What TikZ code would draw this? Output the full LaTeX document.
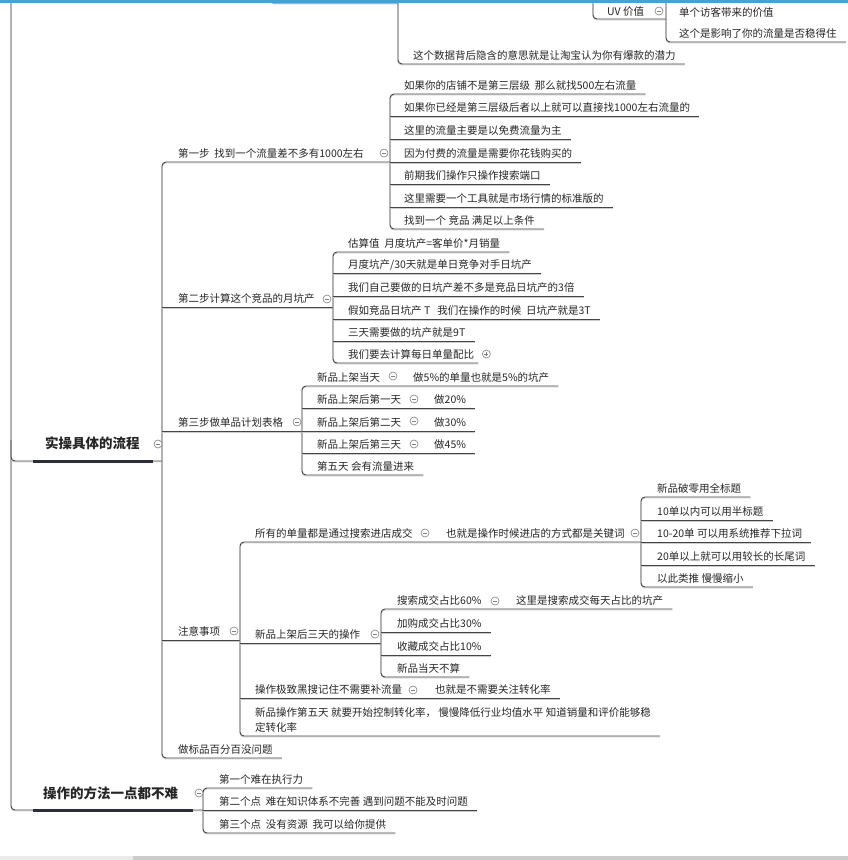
\documentclass[tikz,border=0pt]{standalone}
\usepackage{fontspec}
\setmainfont{Noto Sans CJK SC}
\usetikzlibrary{calc}
\definecolor{txt}{HTML}{262626}
\definecolor{lnc}{HTML}{444444}
\definecolor{shc}{HTML}{CCCCCC}
\definecolor{thk}{HTML}{2B2F38}
\definecolor{circ}{HTML}{808080}
\definecolor{topbar}{HTML}{4E9FD1}
\tikzset{
  tp/.style={anchor=base west, inner sep=0pt, text=txt, font=\fontsize{10.5}{15}\selectfont},
  bigtp/.style={anchor=base west, inner sep=0pt, text=txt, font=\fontsize{13.5}{16}\selectfont\bfseries},
  ln/.style={draw=lnc, line width=0.9pt, preaction={draw=shc, line width=0.9pt, transform canvas={yshift=-1pt}}},
  rc/.style={rounded corners=4pt},
  thkline/.style={draw=thk, line width=3pt},
  minus/.style={circle, draw=circ, line width=0.6pt, minimum size=8pt, inner sep=0pt, fill=white,
    path picture={\draw[circ,line width=0.6pt] ([xshift=2pt]path picture bounding box.west) -- ([xshift=-2pt]path picture bounding box.east);}},
  plus/.style={circle, draw=circ, line width=0.6pt, minimum size=8pt, inner sep=0pt, fill=white,
    path picture={\draw[circ,line width=0.6pt] ([xshift=2pt]path picture bounding box.west) -- ([xshift=-2pt]path picture bounding box.east) ([yshift=-2pt]path picture bounding box.north) -- ([yshift=2pt]path picture bounding box.south);}},
}
\newcommand\mmtopic[4]{\node[tp] (#1) at (#2,#3) {#4}; \path (#1.base east) ++(9,5) coordinate (#1-e);}
\begin{document}
\begin{tikzpicture}[x=1pt,y=-1pt]
\useasboundingbox (0,0) rectangle (848,860);
\fill[white] (0,0) rectangle (848,860);
% vertical positions
\coordinate (vr) at (11,0);
\coordinate (v0) at (162,0);
\coordinate (v1) at (390,0);
\coordinate (v2) at (333,0);
\coordinate (v3) at (302,0);
\coordinate (v4) at (240,0);
\coordinate (v5) at (641,0);
\coordinate (v6) at (381,0);
\coordinate (v7) at (203,0);

% ---------- top (partially visible) ----------
\mmtopic{td}{413}{59}{这个数据背后隐含的意思就是让淘宝认为你有爆款的潜力}
\mmtopic{uv}{607}{15}{UV 价值}
\mmtopic{ua}{679}{16}{单个访客带来的价值}
\mmtopic{ub}{679}{37}{这个是影响了你的流量是否稳得住}
\draw[ln,rc] (270,-8) -- (270,3) -- (398,3);
\draw[ln,rc] (398,-8) -- (398,64) -- (td-e);
\draw[ln,rc] (593,-8) -- (593,19) -- (666,19);
\draw[ln,rc] (666,-8) -- (666,42) -- (ub-e);
\node[minus] (uvc) at (659,11) {};

% ---------- main topics ----------
\node[bigtp] (m1) at (45,448) {实操具体的流程};
\node[bigtp] (m2) at (43,798) {操作的方法一点都不难};

% ---------- level 2 ----------
\mmtopic{s1}{178}{157}{第一步~~找到一个流量差不多有1000左右}
\mmtopic{s2}{178}{302}{第二步计算这个竞品的月坑产}
\mmtopic{s3}{178}{426}{第三步做单品计划表格}
\mmtopic{s4}{178}{635}{注意事项}
\mmtopic{s5}{178}{753}{做标品百分百没问题}

% ---------- step 1 children ----------
\mmtopic{a1}{404}{89}{如果你的店铺不是第三层级~~那么就找500左右流量}
\mmtopic{a2}{404}{111}{如果你已经是第三层级后者以上就可以直接找1000左右流量的}
\mmtopic{a3}{404}{134}{这里的流量主要是以免费流量为主}
\mmtopic{a4}{404}{157}{因为付费的流量是需要你花钱购买的}
\mmtopic{a5}{404}{179}{前期我们操作只操作搜索端口}
\mmtopic{a6}{404}{202}{这里需要一个工具就是市场行情的标准版的}
\mmtopic{a7}{404}{224}{找到一个 竞品 满足以上条件}

% ---------- step 2 children ----------
\mmtopic{b1}{348}{247}{估算值~~月度坑产=客单价*月销量}
\mmtopic{b2}{348}{268}{月度坑产/30天就是单日竞争对手日坑产}
\mmtopic{b3}{348}{291}{我们自己要做的日坑产差不多是竞品日坑产的3倍}
\mmtopic{b4}{348}{314}{假如竞品日坑产 T~~~我们在操作的时候~~日坑产就是3T}
\mmtopic{b5}{348}{336}{三天需要做的坑产就是9T}
\mmtopic{b6}{348}{358}{我们要去计算每日单量配比}
\path (b6.base east) ++(4,5) coordinate (b6-f);

% ---------- step 3 children ----------
\mmtopic{c1}{317}{381}{新品上架当天}
\mmtopic{c1x}{413}{381}{做5\%的单量也就是5\%的坑产}
\mmtopic{c2}{317}{403}{新品上架后第一天}
\mmtopic{c2x}{434}{403}{做20\%}
\mmtopic{c3}{317}{426}{新品上架后第二天}
\mmtopic{c3x}{434}{426}{做30\%}
\mmtopic{c4}{317}{448}{新品上架后第三天}
\mmtopic{c4x}{434}{448}{做45\%}
\mmtopic{c5}{317}{470}{第五天 会有流量进来}

% ---------- notes children ----------
\mmtopic{d1}{255}{537}{所有的单量都是通过搜索进店成交}
\mmtopic{d1x}{446}{537}{也就是操作时候进店的方式都是关键词}
\mmtopic{e1}{657}{492}{新品破零用全标题}
\mmtopic{e2}{657}{515}{10单以内可以用半标题}
\mmtopic{e3}{657}{537}{10-20单 可以用系统推荐下拉词}
\mmtopic{e4}{657}{560}{20单以上就可以用较长的长尾词}
\mmtopic{e5}{657}{582}{以此类推 慢慢缩小}
\mmtopic{d2}{255}{638}{新品上架后三天的操作}
\mmtopic{f1}{397}{604}{搜索成交占比60\%}
\mmtopic{f1x}{516}{604}{这里是搜索成交每天占比的坑产}
\mmtopic{f2}{397}{627}{加购成交占比30\%}
\mmtopic{f3}{397}{650}{收藏成交占比10\%}
\mmtopic{f4}{397}{672}{新品当天不算}
\mmtopic{d3}{255}{693}{操作极致黑搜记住不需要补流量}
\mmtopic{d3x}{435}{693}{也就是不需要关注转化率}
\node[tp] (d4) at (255,716) {新品操作第五天 就要开始控制转化率， 慢慢降低行业均值水平 知道销量和评价能够稳};
\node[tp] (d4b) at (255,731) {定转化率};
\path (d4.base east) ++(9,20) coordinate (d4-e);

% ---------- bottom children ----------
\mmtopic{g1}{219}{783}{第一个难在执行力}
\mmtopic{g2}{219}{805}{第二个点~~难在知识体系不完善 遇到问题不能及时问题}
\mmtopic{g3}{219}{828}{第三个点~~没有资源~~我可以给你提供}

% ---------- connectors ----------
% root vertical
\draw[ln,rc] (vr) -- (11,810) -- (v7 |- 0,810);
\draw[ln,rc] (11,440) -- (11,461) -- (v0 |- 0,461);
% level 2
\draw[ln,rc] (v1 |- s1-e) -- (v0 |- s1-e) -- (v0 |- s5-e) -- (s5-e);
\draw[ln] (v0 |- s2-e) -- (v2 |- s2-e);
\draw[ln] (v0 |- s3-e) -- (v3 |- s3-e);
\draw[ln] (v0 |- 0,640) -- (v4 |- 0,640);
% step 1
\draw[ln,rc] (a1-e) -- (a1-e -| v1) -- (a7-e -| v1) -- (a7-e);
\draw[ln] (a2-e -| v1) -- (a2-e);
\draw[ln] (a3-e -| v1) -- (a3-e);
\draw[ln] (a4-e -| v1) -- (a4-e);
\draw[ln] (a5-e -| v1) -- (a5-e);
\draw[ln] (a6-e -| v1) -- (a6-e);
% step 2
\draw[ln,rc] (b1-e) -- (b1-e -| v2) -- (b6-f -| v2) -- (b6-f);
\draw[ln] (b2-e -| v2) -- (b2-e);
\draw[ln] (b3-e -| v2) -- (b3-e);
\draw[ln] (b4-e -| v2) -- (b4-e);
\draw[ln] (b5-e -| v2) -- (b5-e);
% step 3
\draw[ln,rc] (c1x-e) -- (c1x-e -| v3) -- (c5-e -| v3) -- (c5-e);
\draw[ln] (c2x-e -| v3) -- (c2x-e);
\draw[ln] (c3x-e -| v3) -- (c3x-e);
\draw[ln] (c4x-e -| v3) -- (c4x-e);
% notes
\draw[ln,rc] (d1-e -| v5) -- (d1-e -| v4) -- (d4-e -| v4) -- (d4-e);
\draw[ln] (d2-e -| v4) -- (d2-e -| v6);
\draw[ln] (d3x-e -| v4) -- (d3x-e);
\draw[ln,rc] (e1-e) -- (e1-e -| v5) -- (e5-e -| v5) -- (e5-e);
\draw[ln] (e2-e -| v5) -- (e2-e);
\draw[ln] (e3-e -| v5) -- (e3-e);
\draw[ln] (e4-e -| v5) -- (e4-e);
\draw[ln,rc] (f1x-e) -- (f1x-e -| v6) -- (f4-e -| v6) -- (f4-e);
\draw[ln] (f2-e -| v6) -- (f2-e);
\draw[ln] (f3-e -| v6) -- (f3-e);
% bottom
\draw[ln,rc] (g1-e) -- (g1-e -| v7) -- (g3-e -| v7) -- (g3-e);
\draw[ln] (g2-e -| v7) -- (g2-e);

% thick underlines of main topics
\draw[thkline] (33,461) -- (153,461);
\draw[thkline] (33,810) -- (193,810);

% collapse buttons
\node[minus] (m1c) at (158,444) {};
\node[minus] (m2c) at (199,793) {};
\node[minus] (s1c) at (384,153) {};
\node[minus] (s2c) at (327,299) {};
\node[minus] (s3c) at (297,422) {};
\node[minus] (s4c) at (234,631) {};
\node[plus]  (b6c) at ($(b6.base east)+(12,-4)$) {};
\node[minus] (c1c) at (393,376) {};
\node[minus] (c2c) at (414,399) {};
\node[minus] (c3c) at (414,421) {};
\node[minus] (c4c) at (414,444) {};
\node[minus] (d1c) at (425,533) {};
\node[minus] (d1xc) at (635,533) {};
\node[minus] (d2c) at (375,634) {};
\node[minus] (f1c) at (495,601) {};
\node[minus] (d3c) at (413,690) {};

% window chrome
\fill[topbar] (0,0) rectangle (848,3);
\fill[black!8] (0,856) rectangle (133,860);
\fill[black!20] (133,856) rectangle (848,860);
\end{tikzpicture}
\end{document}
